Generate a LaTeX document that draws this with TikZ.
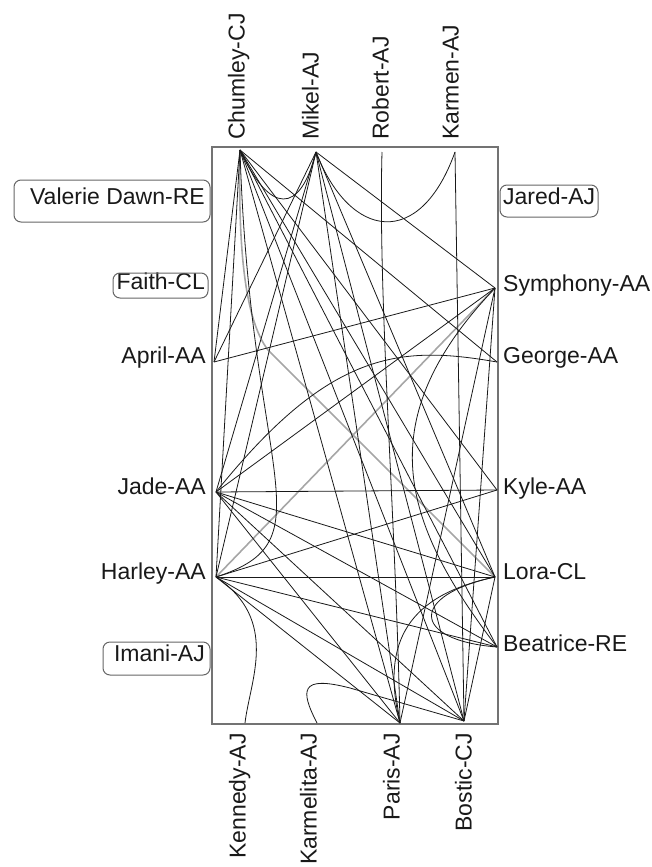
\documentclass[tikz,border=0pt]{standalone}
\usepackage{fontspec}
\setmainfont{Liberation Sans}
\begin{document}
\begin{tikzpicture}[x=1pt,y=-1pt,
  lab/.style={inner sep=0pt,font=\fontsize{23}{27}\selectfont,text=black!90},
  edge/.style={black!90,line width=0.8pt},
  gedge/.style={black!35,line width=1.6pt},
  frame/.style={draw=black!55,line width=1.4pt},
  tag/.style={draw=black!60,line width=1pt,rounded corners=7pt}]
\useasboundingbox (0,0) rectangle (652,867);

% outer frame
\draw[frame] (212,147) rectangle (498,724);

% anchor points of the actors on the frame
\coordinate (C)  at (240,150);
\coordinate (M)  at (316,152);
\coordinate (R)  at (382,152);
\coordinate (Kr) at (455,152);
\coordinate (A)  at (214,362);
\coordinate (J)  at (216,492);
\coordinate (H)  at (216,577);
\coordinate (S)  at (495,288);
\coordinate (G)  at (497,362);
\coordinate (Ky) at (497,490);
\coordinate (L)  at (495,577);
\coordinate (B)  at (497,647);
\coordinate (Ke) at (245,723);
\coordinate (Km) at (317,723);
\coordinate (P)  at (400,723);
\coordinate (Bo) at (464,721);

% labels
\node[lab,rotate=90,anchor=mid west] (tC) at (242,140) {Chumley-CJ};
\node[lab,rotate=90,anchor=mid west] (tM) at (316,140) {Mikel-AJ};
\node[lab,rotate=90,anchor=mid west] (tR) at (386,140) {Robert-AJ};
\node[lab,rotate=90,anchor=mid west] (tKr) at (456,140) {Karmen-AJ};
\node[lab,rotate=90,anchor=mid east] (tKe) at (243,733) {Kennedy-AJ};
\node[lab,rotate=90,anchor=mid east] (tKm) at (314,733) {Karmelita-AJ};
\node[lab,rotate=90,anchor=mid east] (tP) at (397,733) {Paris-AJ};
\node[lab,rotate=90,anchor=mid east] (tBo) at (469,733) {Bostic-CJ};

\node[lab,anchor=mid east] (tV) at (205,202) {Valerie Dawn-RE};
\node[lab,anchor=mid east] (tF) at (205,287) {Faith-CL};
\node[lab,anchor=mid east] (tA) at (206,361) {April-AA};
\node[lab,anchor=mid east] (tJ) at (206,492) {Jade-AA};
\node[lab,anchor=mid east] (tH) at (206,577) {Harley-AA};
\node[lab,anchor=mid east] (tI) at (205,659) {Imani-AJ};
\node[lab,anchor=mid west] (tJa) at (503,202) {Jared-AJ};
\node[lab,anchor=mid west] (tS) at (503,289) {Symphony-AA};
\node[lab,anchor=mid west] (tG) at (503,361) {George-AA};
\node[lab,anchor=mid west] (tKy) at (503,492) {Kyle-AA};
\node[lab,anchor=mid west] (tL) at (503,577) {Lora-CL};
\node[lab,anchor=mid west] (tB) at (503,649) {Beatrice-RE};

% rounded tags of the unconnected actors
\draw[tag] (14,180) rectangle (210,222);
\draw[tag] (113,273) rectangle (208,298);
\draw[tag] (500,185) rectangle (598,217);
\draw[tag] (103,642) rectangle (210,675);

% gray ties
\draw[gedge] (C) .. controls (238,250) and (245,320) .. (268,350) -- (L);
\draw[gedge] (H) -- (S);

% straight ties
\foreach \a/\b in {C/A,C/H,C/Ky,C/L,C/B,C/Bo,C/P,C/G,
                   M/S,M/J,M/H,M/L,M/Bo,M/P,M/A,
                   Kr/Bo,A/S,
                   J/Ky,J/S,J/L,J/Bo,J/P,J/B,
                   H/L,H/Ky,H/B,H/Bo,H/P,
                   S/P,S/Bo,L/Bo}
  \draw[edge] (\a) -- (\b);

% curved ties
\draw[edge] (R) .. controls (378,300) and (395,500) .. (P);
\draw[edge] (C) .. controls (270,215) and (300,215) .. (M);
\draw[edge] (M) .. controls (350,240) and (420,250) .. (Kr);
\draw[edge] (H) .. controls (280,620) and (250,680) .. (Ke);
\draw[edge] (Km) .. controls (300,690) and (300,675) .. (350,688) -- (Bo);
\draw[edge] (L) .. controls (410,595) and (410,640) .. (B);
\draw[edge] (L) .. controls (410,595) and (380,640) .. (P);
\draw[edge] (J) .. controls (330,350) and (400,345) .. (G);
\draw[edge] (C) .. controls (250,480) and (330,540) .. (H);
\draw[edge] (S) .. controls (370,420) and (400,520) .. (B);
\end{tikzpicture}
\end{document}
